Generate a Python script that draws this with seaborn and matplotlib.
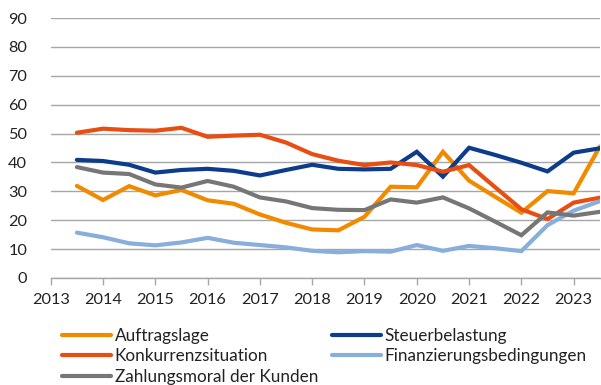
import numpy as np
import pandas as pd
import matplotlib
matplotlib.use("Agg")
import matplotlib.pyplot as plt
from matplotlib.lines import Line2D
import seaborn as sns

# Half-yearly survey dates
periods = [2013.5 + 0.5 * i for i in range(21)]

auftragslage = [31.9, 27.0, 31.8, 28.6, 30.5, 26.9, 25.7, 22.0, 19.1, 16.8, 16.5,
                21.2, 31.6, 31.4, 43.7, 33.7, 28.1, 22.6, 30.1, 29.3, 45.5]
steuerbelastung = [40.9, 40.5, 39.2, 36.5, 37.4, 37.8, 37.1, 35.5, 37.4, 39.2, 37.8,
                   37.6, 37.8, 43.7, 35.1, 45.1, 42.6, 39.9, 36.9, 43.4, 44.9]
konkurrenzsituation = [50.3, 51.7, 51.2, 51.0, 52.0, 48.9, 49.3, 49.6, 46.9, 42.9, 40.6,
                       39.1, 40.0, 39.1, 36.8, 39.1, 31.4, 23.8, 20.4, 26.1, 27.8]
finanzierungsbedingungen = [15.7, 14.1, 12.0, 11.3, 12.3, 13.9, 12.2, 11.4, 10.6, 9.4, 8.9,
                            9.3, 9.1, 11.4, 9.4, 11.1, 10.3, 9.3, 18.3, 23.3, 26.6]
zahlungsmoral = [38.4, 36.5, 36.0, 32.4, 31.3, 33.6, 31.6, 27.9, 26.5, 24.2, 23.6,
                 23.5, 27.2, 26.1, 27.9, 24.1, 19.5, 14.8, 22.7, 21.6, 22.9]

series_names = ["Auftragslage", "Steuerbelastung", "Konkurrenzsituation",
                "Finanzierungsbedingungen", "Zahlungsmoral der Kunden"]
series_values = [auftragslage, steuerbelastung, konkurrenzsituation,
                 finanzierungsbedingungen, zahlungsmoral]
colors = {
    "Auftragslage": "#F28A00",
    "Steuerbelastung": "#0D3C8C",
    "Konkurrenzsituation": "#E84D12",
    "Finanzierungsbedingungen": "#88AEDC",
    "Zahlungsmoral der Kunden": "#767676",
}

year_ticks = list(range(2013, 2024))
y_ticks = list(range(0, 91, 10))

df = pd.concat(
    [pd.DataFrame({"Jahr": periods, "Wert": vals, "Reihe": name})
     for name, vals in zip(series_names, series_values)],
    ignore_index=True,
)

sns.set_theme(style="white")
plt.rcParams["font.family"] = ["Lato", "DejaVu Sans"]

W, H = 601, 385
fig = plt.figure(figsize=(W / 100, H / 100), dpi=100)
ax = fig.add_axes([0.0844, 0.278, 0.9136, 0.675])

sns.lineplot(data=df, x="Jahr", y="Wert", hue="Reihe", hue_order=series_names,
             palette=colors, linewidth=3.0, ax=ax, legend=False, sort=False)
for line in ax.lines:
    line.set_solid_joinstyle("miter")

ax.set_xlim(2013, 2023.5)
ax.set_ylim(0, 90)
ax.set_xticks(year_ticks)
ax.set_xticklabels([str(y) for y in year_ticks])
ax.set_yticks(y_ticks)
ax.set_xlabel("")
ax.set_ylabel("")

ax.yaxis.grid(True, color="#A6A6A6", linewidth=1.0)
ax.set_axisbelow(True)
for side in ["left", "right", "top"]:
    ax.spines[side].set_visible(False)
ax.spines["bottom"].set_color("#A6A6A6")
ax.spines["bottom"].set_linewidth(1.0)

FS = 11.7
ax.tick_params(axis="x", which="major", direction="out", length=5, width=1.0,
               color="#A6A6A6", labelsize=FS, labelcolor="#222222", pad=6,
               bottom=True)
ax.tick_params(axis="y", length=0, labelsize=FS, labelcolor="#222222", pad=17)

# Legend in two columns: three entries on the left, two on the right
LFS = 12.3
columns = [
    (["Auftragslage", "Konkurrenzsituation", "Zahlungsmoral der Kunden"], 61.5),
    (["Steuerbelastung", "Finanzierungsbedingungen"], 331.5),
]
for names, x_px in columns:
    handles = [Line2D([0], [0], color=colors[n], linewidth=3.0) for n in names]
    fig.legend(handles, names, loc="upper left",
               bbox_to_anchor=(x_px / W, (H - 327.5) / H), frameon=False,
               fontsize=LFS, handlelength=2.92, handletextpad=0.2,
               labelspacing=0.28, borderaxespad=0, borderpad=0,
               labelcolor="#222222")

fig.savefig("out.png", dpi=100)
